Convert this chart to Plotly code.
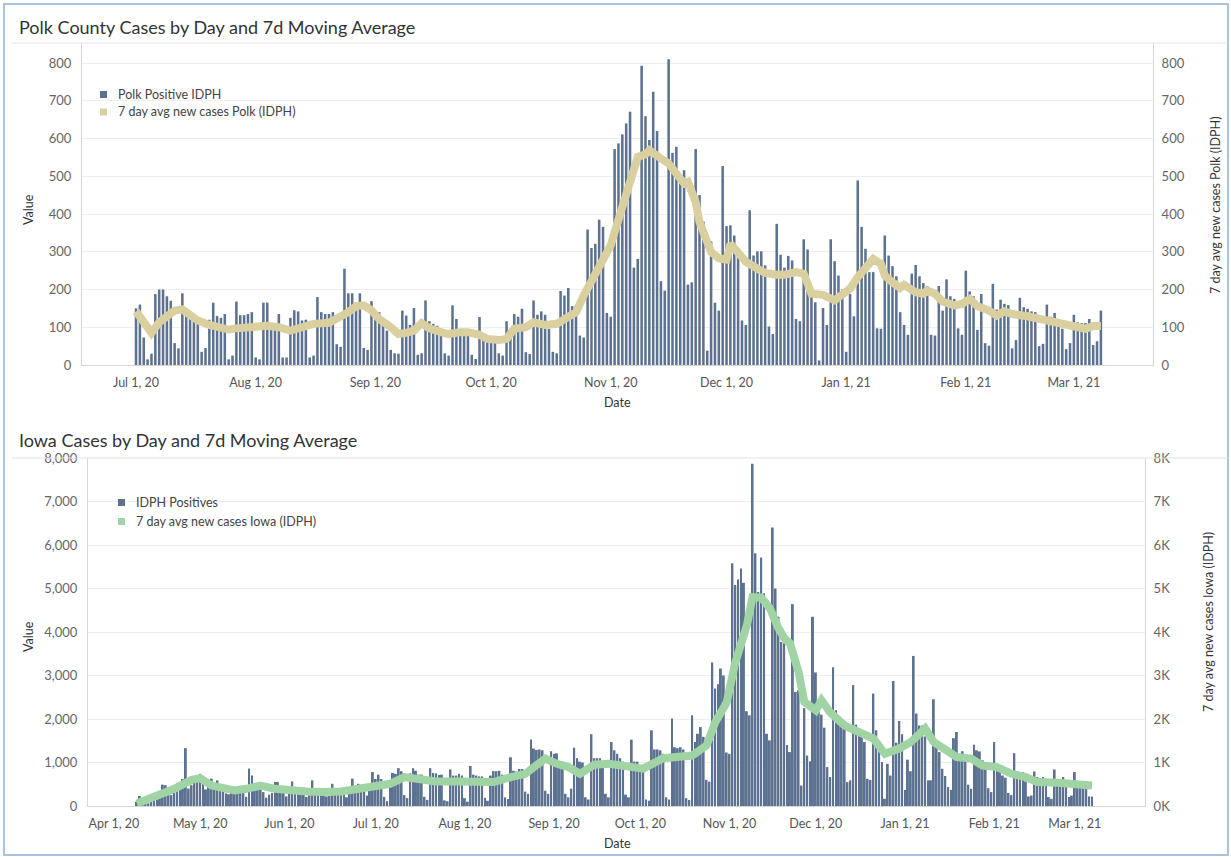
import pandas as pd
import plotly.graph_objects as go

# ---------------- DATA ----------------
POLK_START = "2020-07-01"
polk_cases = [
    150, 160, 73, 15, 30,
    188, 200, 200, 182, 170, 58, 44,
    190, 150, 125, 115, 110, 35, 45,
    120, 165, 130, 125, 135, 15, 25,
    168, 132, 132, 135, 140, 20, 15,
    165, 165, 105, 100, 135, 20, 20,
    125, 145, 142, 118, 120, 20, 25,
    180, 140, 135, 135, 140, 55, 48,
    255, 190, 190, 150, 190, 45, 40,
    169, 122, 140, 110, 91, 40, 31,
    30, 144, 131, 106, 151, 27, 31,
    171, 116, 109, 104, 97, 31, 25,
    158, 122, 82, 82, 78, 27, 16,
    127, 80, 70, 68, 65, 31, 25,
    116, 96, 135, 128, 149, 34, 29,
    171, 133, 142, 133, 96, 35, 31,
    196, 184, 204, 156, 159, 78, 73,
    359, 310, 321, 385, 366, 138, 128,
    572, 587, 611, 640, 671, 258, 281,
    793, 659, 596, 724, 620, 222, 197,
    810, 562, 578, 490, 516, 213, 219,
    572, 450, 380, 38, 328, 165, 144,
    527, 368, 370, 343, 286, 118, 106,
    410, 290, 301, 301, 264, 102, 82,
    374, 292, 258, 289, 277, 122, 116,
    333, 306, 202, 166, 12, 151, 106,
    333, 275, 237, 200, 35, 188, 129,
    489, 366, 308, 246, 246, 97, 96,
    343, 290, 262, 235, 140, 106, 80,
    242, 265, 235, 217, 209, 80, 78,
    209, 144, 227, 182, 175, 97, 80,
    250, 195, 182, 93, 188, 58, 51,
    215, 147, 173, 162, 159, 44, 66,
    178, 153, 149, 142, 140, 50, 56,
    160, 128, 138, 118, 96, 42, 58,
    133, 113, 111, 111, 122, 53, 63,
    144,
]

polk_avg_dates = [
    "2020-07-01", "2020-07-03", "2020-07-05", "2020-07-07", "2020-07-09", "2020-07-11", "2020-07-13",
    "2020-07-15", "2020-07-17", "2020-07-20", "2020-07-22", "2020-07-25", "2020-07-27", "2020-07-30",
    "2020-08-02", "2020-08-04", "2020-08-07", "2020-08-10", "2020-08-13", "2020-08-16", "2020-08-20",
    "2020-08-22", "2020-08-25", "2020-08-27", "2020-08-29", "2020-08-31",
    "2020-09-02", "2020-09-05", "2020-09-07", "2020-09-09", "2020-09-11", "2020-09-13", "2020-09-15",
    "2020-09-18", "2020-09-20", "2020-09-23", "2020-09-25", "2020-09-28", "2020-09-30",
    "2020-10-03", "2020-10-05", "2020-10-07", "2020-10-10", "2020-10-12", "2020-10-15", "2020-10-18",
    "2020-10-20", "2020-10-23", "2020-10-25", "2020-10-28", "2020-10-30", "2020-10-31",
    "2020-11-01", "2020-11-02", "2020-11-03", "2020-11-05", "2020-11-07", "2020-11-08", "2020-11-10",
    "2020-11-11", "2020-11-14", "2020-11-16", "2020-11-18", "2020-11-20", "2020-11-21", "2020-11-23",
    "2020-11-24", "2020-11-26", "2020-11-27", "2020-11-29",
    "2020-12-01", "2020-12-02", "2020-12-04", "2020-12-06", "2020-12-09", "2020-12-11", "2020-12-14",
    "2020-12-16", "2020-12-19", "2020-12-21", "2020-12-23", "2020-12-26", "2020-12-29", "2020-12-31",
    "2021-01-02", "2021-01-04", "2021-01-06", "2021-01-08", "2021-01-10", "2021-01-11", "2021-01-13",
    "2021-01-15", "2021-01-16", "2021-01-19", "2021-01-21", "2021-01-22", "2021-01-24", "2021-01-26",
    "2021-01-29", "2021-01-31",
    "2021-02-02", "2021-02-04", "2021-02-07", "2021-02-09", "2021-02-11", "2021-02-13", "2021-02-17",
    "2021-02-20", "2021-02-24", "2021-02-27",
    "2021-03-02", "2021-03-04", "2021-03-06", "2021-03-08",
]
polk_avg = [
    142, 110, 85, 113, 131, 144, 147, 133, 118, 106, 100, 94, 97, 100,
    103, 104, 100, 91, 100, 109, 112, 122, 140, 156, 158, 145,
    122, 100, 82, 85, 91, 111, 97, 87, 82, 87, 87, 80, 69,
    66, 69, 96, 100, 113, 106, 109, 122, 140, 184, 242, 274, 295,
    317, 352, 385, 458, 512, 551, 558, 569, 547, 534, 507, 481, 485, 432, 379, 326, 299, 283,
    279, 321, 299, 274, 255, 244, 239, 239, 246, 242, 189, 186, 171, 189,
    202, 233, 255, 281, 268, 237, 219, 204, 212, 193, 189, 197, 189, 168, 158, 162,
    175, 156, 144, 131, 142, 135, 129, 122, 113, 103,
    100, 96, 103, 103,
]

IOWA_START = "2020-04-09"
iowa_cases = [
    100, 230, 90, 120,
    60, 130, 190, 150, 190, 490, 480,
    260, 250, 300, 520, 500, 620, 1330,
    400, 480, 560, 620, 740, 550, 380,
    530, 630, 410, 590, 400, 380, 290,
    270, 340, 360, 330, 400, 390, 210,
    860, 700, 420, 400, 390, 320, 190,
    260, 300, 550, 550, 400, 390, 220,
    280, 565, 370, 340, 380, 330, 210,
    250, 590, 330, 330, 380, 310, 220,
    230, 510, 330, 400, 330, 280, 200,
    300, 630, 380, 510, 480, 360, 240,
    510, 780, 620, 720, 620, 210, 110,
    590, 760, 740, 870, 800, 250, 180,
    750, 870, 810, 720, 720, 210, 140,
    870, 760, 750, 710, 720, 130, 110,
    840, 700, 700, 740, 700, 180, 100,
    920, 720, 700, 680, 680, 190, 120,
    700, 800, 800, 810, 720, 200, 160,
    1120, 810, 790, 850, 850, 330, 280,
    1530, 1320, 1290, 1300, 1280, 350, 280,
    1260, 1200, 1210, 1010, 1020, 280, 200,
    400, 1340, 1100, 1020, 1000, 200, 150,
    1650, 1100, 1100, 1100, 1010, 280, 200,
    1470, 1280, 1200, 1100, 1020, 260, 200,
    1525, 1020, 1020, 940, 900, 150, 120,
    1740, 1300, 1300, 1280, 1200, 200, 150,
    2010, 1350, 1330, 1350, 1300, 180, 140,
    2085, 1470, 1660, 1815, 1590, 600, 560,
    3300, 2700, 2800, 3160, 3000, 1230, 1200,
    5580, 5080, 5210, 5460, 5130, 2180, 2085,
    7870, 5810, 4920, 5710, 4890, 1660, 1510,
    6400, 5000, 4350, 3770, 3740, 1400, 1240,
    4640, 2620, 2660, 470, 2250, 1160, 1025,
    4350, 3070, 2160, 2100, 1800, 895, 665,
    3190, 2200, 1970, 1930, 1780, 550, 590,
    2780, 1870, 1780, 1700, 1470, 625, 600,
    2585, 1740, 1280, 1010, 165, 970, 700,
    2875, 1455, 1955, 1650, 370, 1065, 800,
    3450, 2125, 1850, 1850, 1600, 590, 590,
    2455, 1390, 1240, 856, 690, 435, 370,
    1560, 1700, 1200, 1260, 1050, 490, 395,
    1410, 1280, 1255, 1050, 900, 410, 320,
    1470, 856, 820, 700, 650, 300, 250,
    1215, 795, 765, 780, 565, 220, 240,
    795, 665, 640, 665, 625, 205, 165,
    840, 590, 590, 665, 550, 205, 240,
    780, 565, 550, 535, 510, 220, 220,
]

iowa_avg_dates = [
    "2020-04-09", "2020-04-16", "2020-04-22", "2020-04-28",
    "2020-05-01", "2020-05-05", "2020-05-09", "2020-05-13", "2020-05-17", "2020-05-22", "2020-05-27",
    "2020-06-01", "2020-06-07", "2020-06-13", "2020-06-19", "2020-06-25",
    "2020-07-01", "2020-07-06", "2020-07-11", "2020-07-16", "2020-07-22", "2020-07-29",
    "2020-08-05", "2020-08-11", "2020-08-17", "2020-08-22", "2020-08-25", "2020-08-29",
    "2020-09-02", "2020-09-06", "2020-09-10", "2020-09-15", "2020-09-20", "2020-09-23", "2020-09-28",
    "2020-10-02", "2020-10-09", "2020-10-15", "2020-10-19", "2020-10-24", "2020-10-27", "2020-10-31",
    "2020-11-03", "2020-11-07", "2020-11-09", "2020-11-12", "2020-11-15", "2020-11-18", "2020-11-20",
    "2020-11-22", "2020-11-25", "2020-11-27",
    "2020-12-01", "2020-12-03", "2020-12-06", "2020-12-11", "2020-12-16", "2020-12-21", "2020-12-25",
    "2020-12-30",
    "2021-01-03", "2021-01-08", "2021-01-11", "2021-01-16", "2021-01-19", "2021-01-24", "2021-01-28",
    "2021-02-02", "2021-02-07", "2021-02-12", "2021-02-16", "2021-02-23",
    "2021-03-01", "2021-03-07",
]
iowa_avg = [
    60, 240, 395, 600,
    640, 470, 395, 357, 395, 470, 395,
    357, 334, 320, 334, 395,
    470, 510, 665, 610, 565, 565,
    565, 550, 665, 740, 895, 1090,
    970, 895, 740, 950, 970, 948, 890,
    860, 1100, 1160, 1160, 1390, 1920, 2380,
    3300, 4150, 4800, 4790, 4550, 4090, 3860, 3740, 3080, 2390,
    2200, 2430, 2150, 1850, 1690, 1550, 1200, 1320,
    1470, 1780, 1470, 1240, 1125, 1090, 930,
    895, 740, 665, 550, 535,
    510, 470,
]

polk_tick_dates = ["2020-07-01", "2020-08-01", "2020-09-01", "2020-10-01", "2020-11-01",
                   "2020-12-01", "2021-01-01", "2021-02-01", "2021-03-01"]
polk_tick_text = ["Jul 1, 20", "Aug 1, 20", "Sep 1, 20", "Oct 1, 20", "Nov 1, 20",
                  "Dec 1, 20", "Jan 1, 21", "Feb 1, 21", "Mar 1, 21"]
iowa_tick_dates = ["2020-04-01", "2020-05-01", "2020-06-01", "2020-07-01", "2020-08-01",
                   "2020-09-01", "2020-10-01", "2020-11-01", "2020-12-01", "2021-01-01",
                   "2021-02-01", "2021-03-01"]
iowa_tick_text = ["Apr 1, 20", "May 1, 20", "Jun 1, 20", "Jul 1, 20", "Aug 1, 20",
                  "Sep 1, 20", "Oct 1, 20", "Nov 1, 20", "Dec 1, 20", "Jan 1, 21",
                  "Feb 1, 21", "Mar 1, 21"]
polk_y_ticks = [0, 100, 200, 300, 400, 500, 600, 700, 800]
iowa_y_ticks = [0, 1000, 2000, 3000, 4000, 5000, 6000, 7000, 8000]
iowa_left_text = ["0", "1,000", "2,000", "3,000", "4,000", "5,000", "6,000", "7,000", "8,000"]
iowa_right_text = ["0K", "1K", "2K", "3K", "4K", "5K", "6K", "7K", "8K"]

# ---------------- STYLE ----------------
W, H = 1231, 857
BAR = "#5c7290"
POLK_LINE = "#d9cf9f"
IOWA_LINE = "#a1d4a4"
FONT = "Lato, 'Open Sans', sans-serif"
DAY_MS = 86400000


def px(x):
    return x / W


def py(y):
    return 1 - y / H


polk_dates = pd.date_range(POLK_START, periods=len(polk_cases), freq="D")
iowa_dates = pd.date_range(IOWA_START, periods=len(iowa_cases), freq="D")

fig = go.Figure()
fig.add_trace(go.Bar(x=polk_dates, y=polk_cases, name="Polk Positive IDPH",
                     marker=dict(color=BAR, line=dict(width=0)), width=0.66 * DAY_MS,
                     xaxis="x", yaxis="y"))
fig.add_trace(go.Scatter(x=polk_avg_dates, y=polk_avg, name="7 day avg new cases Polk (IDPH)",
                         mode="lines", line=dict(color=POLK_LINE, width=8),
                         xaxis="x", yaxis="y2"))
fig.add_trace(go.Bar(x=iowa_dates, y=iowa_cases, name="IDPH Positives",
                     marker=dict(color=BAR, line=dict(width=0)), width=0.68 * DAY_MS,
                     xaxis="x2", yaxis="y3"))
fig.add_trace(go.Scatter(x=iowa_avg_dates, y=iowa_avg, name="7 day avg new cases Iowa (IDPH)",
                         mode="lines", line=dict(color=IOWA_LINE, width=8),
                         xaxis="x2", yaxis="y4"))

tickfont_x = dict(size=12.5, color="#555", family=FONT)
tickfont_y = dict(size=13, color="#666", family=FONT)
AX_LINE = "#d6d6d6"
GRID = "#efefef"

fig.update_layout(
    width=W, height=H, margin=dict(l=0, r=0, t=0, b=0, autoexpand=False),
    paper_bgcolor="white", plot_bgcolor="white",
    font=dict(family=FONT, color="#333"),
    showlegend=False,
    xaxis=dict(domain=[px(82), px(1153)], anchor="y", type="date", automargin=False,
               range=["2020-06-17", "2021-03-21 12:00"],
               tickmode="array", tickvals=polk_tick_dates, ticktext=polk_tick_text,
               showgrid=False, showline=True, linecolor=AX_LINE, zeroline=False,
               ticks="", tickfont=tickfont_x, ticklabelstandoff=6),
    yaxis=dict(domain=[py(365), py(43)], anchor="x", range=[0, 853], automargin=False,
               tickmode="array", tickvals=polk_y_ticks,
               showgrid=True, gridcolor=GRID, showline=True, linecolor=AX_LINE,
               zeroline=False, ticks="", tickfont=tickfont_y, ticklabelstandoff=7),
    yaxis2=dict(overlaying="y", side="right", anchor="x", range=[0, 853], automargin=False,
                tickmode="array", tickvals=polk_y_ticks,
                showgrid=False, showline=True, linecolor=AX_LINE, zeroline=False,
                ticks="", tickfont=tickfont_y, ticklabelstandoff=5),
    xaxis2=dict(domain=[px(88), px(1145)], anchor="y3", type="date", automargin=False,
                range=["2020-03-23", "2021-03-25 10:00"],
                tickmode="array", tickvals=iowa_tick_dates, ticktext=iowa_tick_text,
                showgrid=False, showline=True, linecolor=AX_LINE, zeroline=False,
                ticks="", tickfont=tickfont_x, ticklabelstandoff=6),
    yaxis3=dict(domain=[py(806), py(458)], anchor="x2", range=[0, 8000], automargin=False,
                tickmode="array", tickvals=iowa_y_ticks, ticktext=iowa_left_text,
                showgrid=True, gridcolor=GRID, showline=True, linecolor=AX_LINE,
                zeroline=False, ticks="", tickfont=tickfont_y, ticklabelstandoff=7),
    yaxis4=dict(overlaying="y3", side="right", anchor="x2", range=[0, 8000], automargin=False,
                tickmode="array", tickvals=iowa_y_ticks, ticktext=iowa_right_text,
                showgrid=False, showline=True, linecolor=AX_LINE, zeroline=False,
                ticks="", tickfont=tickfont_y, ticklabelstandoff=5),
)

shapes = []
# dashboard border and title separators
shapes.append(dict(type="rect", xref="paper", yref="paper", x0=px(4), x1=px(1228), y0=py(855), y1=py(4),
                   line=dict(color="#a9c3de", width=2), fillcolor="rgba(0,0,0,0)", layer="above"))
shapes.append(dict(type="line", xref="paper", yref="paper", x0=px(12), x1=px(1228), y0=py(43), y1=py(43),
                   line=dict(color="#e2e2e2", width=1), layer="above"))
shapes.append(dict(type="line", xref="paper", yref="paper", x0=px(12), x1=px(1228), y0=py(458), y1=py(458),
                   line=dict(color="#e2e2e2", width=1), layer="above"))
# legend backgrounds (hide gridlines behind legends)
shapes.append(dict(type="rect", xref="paper", yref="paper", x0=px(95), x1=px(314), y0=py(142), y1=py(80),
                   line=dict(width=0), fillcolor="white", layer="between"))
shapes.append(dict(type="rect", xref="paper", yref="paper", x0=px(110), x1=px(378), y0=py(556), y1=py(488),
                   line=dict(width=0), fillcolor="white", layer="between"))
# legend swatches
for (x0, yc, col) in [(100, 94.5, BAR), (100, 112, POLK_LINE), (118, 502.5, BAR), (118, 521.5, IOWA_LINE)]:
    shapes.append(dict(type="rect", xref="paper", yref="paper", x0=px(x0), x1=px(x0 + 7),
                       y0=py(yc + 3.5), y1=py(yc - 3.5), line=dict(width=0), fillcolor=col, layer="above"))
fig.update_layout(shapes=shapes)

ann = []


def text(x, y, s, size, color="#333", xanchor="left", angle=0):
    ann.append(dict(x=px(x), y=py(y), xref="paper", yref="paper", text=s, showarrow=False,
                    xanchor=xanchor, yanchor="middle", textangle=angle,
                    font=dict(size=size, color=color, family=FONT)))


text(17, 27, "Polk County Cases by Day and 7d Moving Average", 18, "#333")
text(17, 440, "Iowa Cases by Day and 7d Moving Average", 18, "#333")
text(116, 94.5, "Polk Positive IDPH", 12.5, "#444")
text(116, 112, "7 day avg new cases Polk (IDPH)", 12.5, "#444")
text(134, 502.5, "IDPH Positives", 12.5, "#444")
text(134, 521.5, "7 day avg new cases Iowa (IDPH)", 12.5, "#444")
text(28, 210, "Value", 12.5, "#333", "center", -90)
text(28, 637, "Value", 12.5, "#333", "center", -90)
text(617, 403, "Date", 12.5, "#333", "center")
text(617, 843, "Date", 12.5, "#333", "center")
text(1216, 205, "7 day avg new cases Polk (IDPH)", 12.5, "#333", "center", -90)
text(1208, 622, "7 day avg new cases Iowa (IDPH)", 12.5, "#333", "center", -90)
fig.update_layout(annotations=ann)

POST = (
    "document.documentElement.style.margin='0';document.documentElement.style.overflow='hidden';"
    "document.body.style.margin='0';document.body.style.padding='0';document.body.style.overflow='hidden';"
    "var gd=document.getElementById('{plot_id}');gd.style.position='fixed';gd.style.left='0px';gd.style.top='0px';"
)
fig.write_html("out.html", config={"displayModeBar": False}, post_script=POST)
